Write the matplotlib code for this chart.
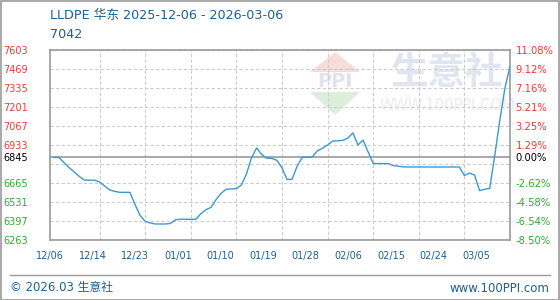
import numpy as np
import matplotlib.pyplot as plt
from matplotlib.patches import Rectangle, Polygon
from matplotlib.lines import Line2D

plt.rcParams['font.family'] = ['DejaVu Sans', 'Noto Sans CJK SC']

# 每日价格 (2025-12-06 .. 2026-03-06), 读自原图
prices = [
    6845, 6845, 6808, 6773, 6743, 6711, 6686, 6685, 6685, 6672,
    6644, 6616, 6606, 6599, 6599, 6599, 6513, 6436, 6395, 6383,
    6376, 6376, 6376, 6380, 6405, 6410, 6409, 6409, 6409, 6449,
    6477, 6493, 6548, 6593, 6621, 6623, 6626, 6651, 6730, 6844,
    6912, 6866, 6839, 6839, 6825, 6772, 6690, 6691, 6785, 6845,
    6846, 6850, 6892, 6910, 6933, 6961, 6963, 6965, 6982, 7018,
    6933, 6968, 6884, 6803, 6802, 6802, 6802, 6788, 6783, 6778,
    6778, 6778, 6778, 6778, 6778, 6778, 6778, 6778, 6778, 6778,
    6778, 6718, 6735, 6721, 6611, 6621, 6627, 6862, 7109, 7335,
    7487,
]
base = 6845
left_ticks = [6263, 6397, 6531, 6665, 6845, 6933, 7067, 7201, 7335, 7469, 7603]
right_labels = ['-8.50%', '-6.54%', '-4.58%', '-2.62%', '0.00%', '1.29%',
                '3.25%', '5.21%', '7.16%', '9.12%', '11.08%']
grid_levels = [6263, 6397, 6531, 6665, 6799, 6933, 7067, 7201, 7335, 7469, 7603]
date_labels = ['12/06', '12/14', '12/23', '01/01', '01/10', '01/19',
               '01/28', '02/06', '02/15', '02/24', '03/05']

RED = '#ff3333'
GREEN = '#2eaa2e'
BLUE_TXT = '#1d5f96'
GRAY = '#999999'


def tick_color(v):
    if v > base:
        return RED
    if v < base:
        return GREEN
    return 'black'


fig = plt.figure(figsize=(5.6, 3.0), dpi=100)
ax = fig.add_axes([50 / 560, 60 / 300, 460 / 560, 190 / 300])
days = np.arange(len(prices))
ax.set_xlim(0, len(prices) - 1)
ax.set_ylim(left_ticks[0], left_ticks[-1])

# 水印
wm = dict(transform=ax.transAxes, zorder=0)
ax.add_patch(Polygon([(0.565, 0.884), (0.674, 0.884), (0.62, 0.99)], closed=True,
                     fc='#f7dcdc', ec='none', **wm))
ax.add_patch(Polygon([(0.565, 0.779), (0.674, 0.779), (0.62, 0.658)], closed=True,
                     fc='#dcefdc', ec='none', **wm))
ax.text(0.62, 0.832, 'PPI', ha='center', va='center', fontsize=14,
        fontweight='bold', color='#dfe3ec', **wm)
ax.text(0.863, 0.884, '生意社', ha='center', va='center', fontsize=27,
        fontweight='bold', color='#e0e5ef', family=['Noto Sans CJK SC'], **wm)
ax.text(0.863, 0.71, 'WWW.100PPI.COM', ha='center', va='center', fontsize=10.5,
        color='#ebebeb', **wm)

for g in grid_levels:
    ax.axhline(g, color='#cccccc', lw=0.8, ls=(0, (3, 2)), zorder=1)
for k in range(1, 10):
    ax.axvline(k * 9, color='#cccccc', lw=0.8, ls=(0, (3, 2)), zorder=1)
ax.axhline(base, color=GRAY, lw=1.2, zorder=2)

ax.plot(days, prices, color='#3a98d8', lw=1.0, zorder=3)

for s in ax.spines.values():
    s.set_color(GRAY)
    s.set_linewidth(1.2)

ax.set_yticks(left_ticks)
ax.set_yticklabels([str(v) for v in left_ticks])
ax.tick_params(axis='y', length=0, pad=16, labelsize=7)
for lab, v in zip(ax.get_yticklabels(), left_ticks):
    lab.set_color(tick_color(v))

ax.set_xticks(np.linspace(-0.78, 83.35, len(date_labels)))
ax.set_xticklabels(date_labels)
ax.tick_params(axis='x', length=0, pad=8, labelsize=7, labelcolor=BLUE_TXT)

ax2 = ax.twinx()
ax2.set_ylim(ax.get_ylim())
ax2.set_yticks(left_ticks)
ax2.set_yticklabels(right_labels)
ax2.tick_params(axis='y', length=0, pad=4, labelsize=7.2)
for lab, v in zip(ax2.get_yticklabels(), left_ticks):
    lab.set_color(tick_color(v))
for s in ax2.spines.values():
    s.set_visible(False)

fig.text(50 / 560, 1 - 15 / 300, 'LLDPE 华东 2025-12-06 - 2026-03-06',
         fontsize=9.2, color=BLUE_TXT, va='center')
fig.text(50 / 560, 1 - 35 / 300, '7042', fontsize=9.2, color=BLUE_TXT,
         va='center')

fig.add_artist(Line2D([10 / 560, 550 / 560], [1 - 275 / 300] * 2,
                      color=GRAY, lw=1.0))
fig.text(10 / 560, 1 - 288 / 300, '© 2026.03 生意社', fontsize=8.5,
         color=BLUE_TXT, va='center')
fig.text(549 / 560, 1 - 288 / 300, 'www.100PPI.com', fontsize=8.5,
         color=BLUE_TXT, va='center', ha='right')
fig.add_artist(Rectangle((0.5 / 560, 0.5 / 300), 558.5 / 560, 298.5 / 300,
                         transform=fig.transFigure, fill=False, ec=GRAY, lw=1.2))

fig.savefig('out.png', dpi=100)
